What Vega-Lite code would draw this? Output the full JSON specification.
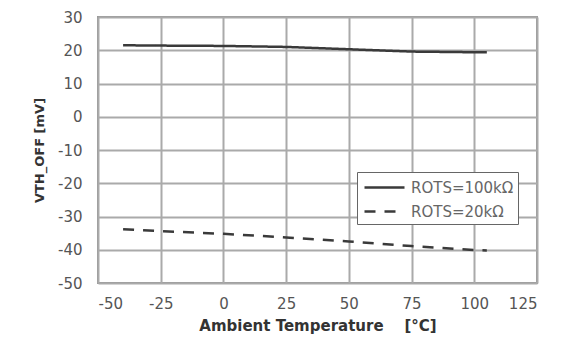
{
  "$schema": "https://vega.github.io/schema/vega-lite/v6.json",
  "width": 439,
  "height": 266,
  "autosize": "none",
  "padding": {"left": 98, "top": 17, "right": 24, "bottom": 68},
  "background": "white",
  "data": {"values": [
    {"t": -40, "v": 21.5, "s": "ROTS=100kΩ"},
    {"t": -25, "v": 21.4, "s": "ROTS=100kΩ"},
    {"t": 0, "v": 21.3, "s": "ROTS=100kΩ"},
    {"t": 25, "v": 21.0, "s": "ROTS=100kΩ"},
    {"t": 50, "v": 20.3, "s": "ROTS=100kΩ"},
    {"t": 75, "v": 19.6, "s": "ROTS=100kΩ"},
    {"t": 100, "v": 19.4, "s": "ROTS=100kΩ"},
    {"t": 105, "v": 19.4, "s": "ROTS=100kΩ"},
    {"t": -40, "v": -33.8, "s": "ROTS=20kΩ"},
    {"t": -25, "v": -34.4, "s": "ROTS=20kΩ"},
    {"t": 0, "v": -35.2, "s": "ROTS=20kΩ"},
    {"t": 25, "v": -36.3, "s": "ROTS=20kΩ"},
    {"t": 50, "v": -37.5, "s": "ROTS=20kΩ"},
    {"t": 75, "v": -38.9, "s": "ROTS=20kΩ"},
    {"t": 100, "v": -40.1, "s": "ROTS=20kΩ"},
    {"t": 105, "v": -40.2, "s": "ROTS=20kΩ"}
  ]},
  "mark": {"type": "line", "color": "#3a3a3a", "strokeWidth": 2.5},
  "encoding": {
    "x": {"field": "t", "type": "quantitative",
      "scale": {"domain": [-50, 125], "nice": false, "zero": false},
      "axis": {"values": [-50, -25, 0, 25, 50, 75, 100, 125], "title": "Ambient Temperature\u00a0\u00a0\u00a0\u00a0[°C]"}},
    "y": {"field": "v", "type": "quantitative",
      "scale": {"domain": [-50, 30], "nice": false, "zero": false},
      "axis": {"values": [-50, -40, -30, -20, -10, 0, 10, 20, 30], "title": "VTH_OFF [mV]", "titleFontSize": 13}},
    "strokeDash": {"field": "s", "type": "nominal",
      "scale": {"domain": ["ROTS=100kΩ", "ROTS=20kΩ"], "range": [[1, 0], [11, 9]]},
      "legend": {"title": null, "orient": "none", "legendX": 259, "legendY": 155,
        "strokeColor": "#666", "fillColor": "white", "padding": 4,
        "symbolType": "M-2,0H2", "symbolSize": 400, "symbolOffset": 12, "symbolStrokeWidth": 2.5, "symbolStrokeColor": "#3a3a3a",
        "labelOffset": 15, "labelFont": "DejaVu Sans", "labelFontSize": 15, "labelColor": "#666", "rowPadding": 4}}
  },
  "config": {
    "view": {"stroke": "#999", "strokeWidth": 2},
    "axis": {
      "grid": true, "gridColor": "#aaa", "gridWidth": 2, "domain": false, "ticks": false,
      "labelFont": "DejaVu Sans", "labelFontSize": 15, "labelColor": "#555",
      "labelExpr": "replace(datum.label, '−', '-')",
      "titleFont": "DejaVu Sans", "titleFontSize": 15, "titleFontWeight": "bold", "titleColor": "#333"
    },
    "axisX": {"labelPadding": 13, "titlePadding": 7},
    "axisY": {"labelPadding": 16, "titlePadding": 11}
  }
}
